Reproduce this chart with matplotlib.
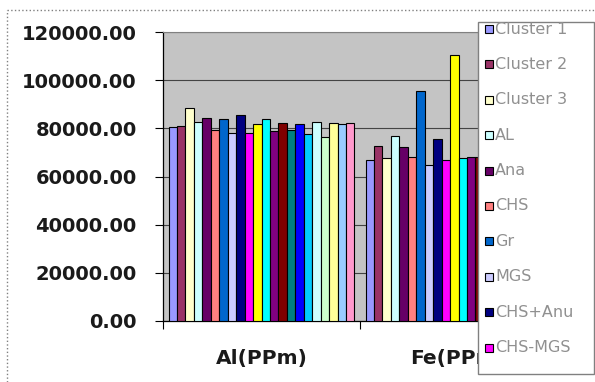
import numpy as np
import matplotlib.pyplot as plt
from matplotlib.patches import Rectangle
from matplotlib.lines import Line2D
from matplotlib.ticker import FormatStrFormatter

# categories and series
categories = ['Al(PPm)', 'Fe(PPm)']
legend_names = ['Cluster 1', 'Cluster 2', 'Cluster 3', 'AL', 'Ana', 'CHS', 'Gr',
                'MGS', 'CHS+Anu', 'CHS-MGS']

al_values = [80500, 81000, 88300, 82500, 84200, 79300, 83800, 77900, 85700, 77900, 81800,
             83800, 78800, 82100, 79300, 82000, 77700, 82600, 76500, 82300, 82000, 82100]
# Fe bars 14-22 sit behind the legend box in the picture, values estimated
fe_values = [66900, 72800, 67500, 76800, 72400, 68200, 95500, 64800, 75400, 66900, 110500,
             67800, 67900, 68000, 67000, 69000, 66000, 68500, 67000, 68000, 67500, 68000]

colors = ['#9999FF', '#993366', '#FFFFCC', '#CCFFFF', '#660066', '#FF8080', '#0066CC',
          '#CCCCFF', '#000080', '#FF00FF', '#FFFF00', '#00FFFF', '#800080', '#800000',
          '#008080', '#0000FF', '#00CCFF', '#CCFFFF', '#CCFFCC', '#FFFF99', '#99CCFF', '#FF99CC']

W, H = 595, 382
fig = plt.figure(figsize=(W / 100, H / 100), dpi=100)
ax = fig.add_axes([163 / W, 61 / H, 394 / W, 289 / H])
ax.set_facecolor('#c4c4c4')

x = np.arange(len(categories))
n = len(colors)
w = 0.0429
for i in range(n):
    ax.bar(x + (i - (n - 1) / 2) * w, [al_values[i], fe_values[i]], width=w,
           color=colors[i], edgecolor='black', linewidth=0.8, zorder=3)

ax.set_xlim(-0.5, 1.5)
ax.set_ylim(0, 120000)
ax.set_yticks(np.arange(0, 120001, 20000))
ax.yaxis.set_major_formatter(FormatStrFormatter('%.2f'))
ax.grid(axis='y', color='#444444', linewidth=0.8, zorder=1)

ax.set_xticks([-0.5, 0.5, 1.5])
ax.set_xticklabels([])
ax.set_xticks(x, minor=True)
ax.set_xticklabels(categories, minor=True)
ax.tick_params(axis='x', which='major', length=6, width=0.8, direction='out')
ax.tick_params(axis='x', which='minor', length=0, pad=20)
ax.tick_params(axis='y', length=6, width=0.8, direction='out', pad=13)
for lab in ax.get_yticklabels() + ax.get_xticklabels(minor=True):
    lab.set_fontweight('bold')
    lab.set_color('#1a1a1a')
for lab in ax.get_yticklabels():
    lab.set_fontsize(14)
for lab in ax.get_xticklabels(minor=True):
    lab.set_fontsize(14.5)

for s in ['left', 'bottom']:
    ax.spines[s].set_color('black')
    ax.spines[s].set_linewidth(0.9)
ax.spines['top'].set_color('#808080')
ax.spines['right'].set_visible(False)

# chart area border (dotted)
fig.add_artist(Line2D([7 / W, 7 / W], [0, 1 - 10 / H], transform=fig.transFigure,
                      color='#808080', linestyle=':', linewidth=1))
fig.add_artist(Line2D([7 / W, 1], [1 - 10 / H, 1 - 10 / H], transform=fig.transFigure,
                      color='#808080', linestyle=':', linewidth=1))

# legend box (Excel shows only the first 10 entries)
box = Rectangle((478 / W, 8 / H), 116 / W, 352 / H, transform=fig.transFigure,
                facecolor='white', edgecolor='#808080', linewidth=1, zorder=10)
fig.add_artist(box)
for k, name in enumerate(legend_names):
    yc = 29 + 35.4 * k
    fig.add_artist(Rectangle((485 / W, 1 - (yc + 4) / H), 8 / W, 8 / H,
                             transform=fig.transFigure, facecolor=colors[k],
                             edgecolor='black', linewidth=0.8, zorder=11))
    fig.text(495 / W, 1 - yc / H, name, fontsize=11.5, color='#909090',
             va='center', ha='left', zorder=12)

fig.savefig('out.png', dpi=100)
